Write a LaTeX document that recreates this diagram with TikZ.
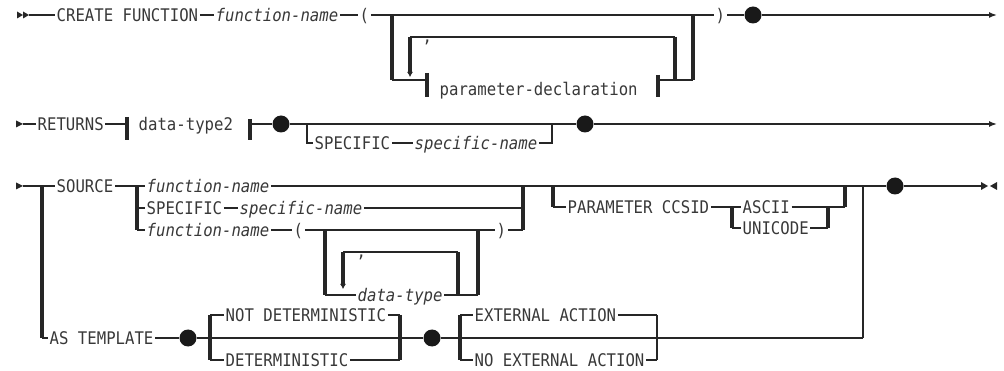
\documentclass[tikz,border=0pt]{standalone}
\usepackage{fontspec}
\newfontfamily\mono[FakeStretch=0.9]{DejaVu Sans Mono}
\usetikzlibrary{arrows.meta}
\begin{document}
\begin{tikzpicture}[x=1pt,y=-1pt,
  rail/.style={line width=1.5pt,draw=black!85},
  bar/.style={line width=3.2pt,draw=black!85},
  kw/.style={font=\mono\fontsize{17.4}{19}\selectfont,text=black!78,inner xsep=1.5pt,inner ysep=0pt,text height=12.6pt,text depth=0pt,anchor=west},
  var/.style={kw,font=\mono\itshape\fontsize{17.4}{19}\selectfont},
  dot/.style={circle,fill=black!90,inner sep=0pt,minimum size=17pt},
  endarrow/.style={rail,-{Latex[length=8pt,width=6pt]}},
  looparrow/.style={bar,-{Latex[length=5pt,width=6pt]}},
  tri/.style={fill=black!85}
]
\useasboundingbox (0,0) rectangle (1004,371);
% ---------- row 1 ----------
\fill[tri] (17,11.5) -- (23,15) -- (17,18.5) -- cycle;
\fill[tri] (23,11.5) -- (29,15) -- (23,18.5) -- cycle;
\coordinate (s1) at (29,15);
\node[kw] (cf) at (55,15) {CREATE FUNCTION};
\node[var] (fn1) at (214,15) {function-name};
\node[kw] (lp1) at (358,15) {(};
\node[kw] (rp1) at (714,15) {)};
\node[dot] (d1) at (753,15) {};
\coordinate (e1) at (997,15);
\draw[rail] (s1) -- (cf.west) (cf.east) -- (fn1.west) (fn1.east) -- (lp1.west) (lp1.east) -- (rp1.west) (rp1.east) -- (d1);
\draw[endarrow] (d1) -- (e1);
\coordinate (a1) at (392,15); \coordinate (a2) at (392,80);
\coordinate (a3) at (693,15); \coordinate (a4) at (693,80);
\coordinate (pl) at (427,80); \coordinate (pr) at (658,80);
\node[kw] (pd) at (438,89) {parameter-declaration};
\draw[bar] (a1) -- (a2);
\draw[bar] (a3) -- (a4);
\draw[rail] (a2) -- (pl) (pr) -- (a4);
\draw[bar] (pl) ++(0,-7) -- ++(0,24);
\draw[bar] (pr) ++(0,-5) -- ++(0,22);
\coordinate (l1) at (410,37); \coordinate (l2) at (410,77);
\coordinate (l3) at (675,37); \coordinate (l4) at (675,80);
\draw[rail] (l1) -- (l3);
\draw[looparrow] (l1) -- (l2);
\draw[bar] (l3) -- (l4);
\node[kw] (c1) at (421,36) {,};
% ---------- row 2 ----------
\fill[tri] (16,120.5) -- (23,124) -- (16,127.5) -- cycle;
\coordinate (s2) at (23,124);
\node[kw] (ret) at (36,124) {RETURNS};
\coordinate (q1) at (127,124); \coordinate (q2) at (250,124);
\node[kw] (dt2) at (137,124) {data-type2};
\node[dot] (d2) at (281,124) {};
\coordinate (o1) at (307,124); \coordinate (o2) at (307,143);
\node[kw] (sp2) at (313,143) {SPECIFIC};
\node[var] (sn2) at (413,143) {specific-name};
\coordinate (o3) at (552,143); \coordinate (o4) at (552,124);
\node[dot] (d3) at (585,124) {};
\coordinate (e2) at (997,124);
\draw[rail] (s2) -- (ret.west) (ret.east) -- (q1) (q2) -- (d2) (d2) -- (d3);
\draw[bar] (q1) ++(0,-7) -- ++(0,23);
\draw[bar] (q2) ++(0,-5) -- ++(0,21);
\draw[rail] (o1) -- (o2) -- (sp2.west) (sp2.east) -- (sn2.west) (sn2.east) -- (o3) -- (o4);
\draw[endarrow] (d3) -- (e2);
% ---------- row 3 ----------
\fill[tri] (16,182.5) -- (23,186) -- (16,189.5) -- cycle;
\coordinate (s3) at (23,186);
\coordinate (m1) at (42,186); \coordinate (m2) at (42,338);
\node[kw] (src) at (55,186) {SOURCE};
\coordinate (k1) at (137,186); \coordinate (k2) at (137,230); \coordinate (kb) at (137,208);
\node[var] (fnA) at (145,186) {function-name};
\node[kw] (spB) at (145,208) {SPECIFIC};
\node[var] (snB) at (238,208) {specific-name};
\node[var] (fnC) at (145,230) {function-name};
\node[kw] (lpC) at (292,230) {(};
\coordinate (g1) at (325,230); \coordinate (g2) at (325,295);
\node[var] (dtC) at (356,295) {data-type};
\coordinate (g3) at (478,295); \coordinate (g4) at (478,230);
\coordinate (h1) at (343,252); \coordinate (h2) at (343,289);
\coordinate (h3) at (458,252); \coordinate (h4) at (458,295);
\node[kw] (c2) at (355,251) {,};
\node[kw] (rpC) at (495,230) {)};
\coordinate (k3) at (523,230); \coordinate (k4) at (523,208); \coordinate (k5) at (523,186);
\coordinate (p1) at (553,186); \coordinate (p2) at (553,207);
\node[kw] (pc) at (566,207) {PARAMETER CCSID};
\coordinate (u1) at (732,207); \coordinate (u2) at (732,228);
\node[kw] (asc) at (741,207) {ASCII};
\node[kw] (uni) at (741,228) {UNICODE};
\coordinate (u3) at (828,207); \coordinate (u4) at (828,228);
\coordinate (p3) at (845,207); \coordinate (p4) at (845,186);
\coordinate (m3) at (863,186); \coordinate (m4) at (863,338);
\node[dot] (d4) at (895,186) {};
\coordinate (e3) at (981,186);
\draw[rail] (s3) -- (m1) -- (src.west) (src.east) -- (k1) -- (fnA.west) (fnA.east) -- (d4) -- (e3);
\fill[tri] (981,182) -- (988,186) -- (981,190) -- cycle;
\fill[tri] (997,182) -- (990,186) -- (997,190) -- cycle;
\draw[bar] (m1) -- (m2);
\draw[bar] (k1) -- (k2);
\draw[rail] (kb) -- (spB.west) (spB.east) -- (snB.west) (snB.east) -- (k4);
\draw[rail] (k2) -- (fnC.west) (fnC.east) -- (lpC.west) (lpC.east) -- (rpC.west) (rpC.east) -- (k3);
\draw[bar] (k3) -- (k5);
\draw[bar] (g1) -- (g2);
\draw[rail] (g2) -- (dtC.west) (dtC.east) -- (g3);
\draw[bar] (g3) -- (g4);
\draw[rail] (h1) -- (h3);
\draw[looparrow] (h1) -- (h2);
\draw[bar] (h3) -- (h4);
\draw[bar] (p1) -- (p2);
\draw[rail] (p2) -- (pc.west) (pc.east) -- (u1);
\draw[bar] (u1) -- (u2);
\draw[rail] (u1) -- (asc.west) (asc.east) -- (u3) -- (p3);
\draw[rail] (u2) -- (uni.west) (uni.east) -- (u4);
\draw[bar] (u3) -- (u4);
\draw[bar] (p3) -- (p4);
\draw[rail] (m3) -- (m4);
% ---------- AS TEMPLATE ----------
\node[kw] (ast) at (48,338) {AS TEMPLATE};
\node[dot] (d5) at (188,338) {};
\coordinate (n1) at (210,315); \coordinate (n2) at (210,360);
\node[kw] (nd) at (224,315) {NOT DETERMINISTIC};
\node[kw] (det) at (224,360) {DETERMINISTIC};
\coordinate (n3) at (400,315); \coordinate (n4) at (400,360);
\node[dot] (d6) at (432,338) {};
\coordinate (x1) at (460,315); \coordinate (x2) at (460,360);
\node[kw] (ea) at (473,315) {EXTERNAL ACTION};
\node[kw] (nea) at (473,360) {NO EXTERNAL ACTION};
\coordinate (x3) at (657,315); \coordinate (x4) at (657,360);
\draw[rail] (m2) -- (ast.west) (ast.east) -- (d5) -- (d6) -- (m4);
\draw[bar] (n1) -- (n2);
\draw[bar] (n3) -- (n4);
\draw[bar] (x1) -- (x2);
\draw[rail,line width=2pt] (x3) -- (x4);
\draw[rail] (n1) -- (nd.west) (nd.east) -- (n3) (n2) -- (det.west) (det.east) -- (n4);
\draw[rail] (x1) -- (ea.west) (ea.east) -- (x3) (x2) -- (nea.west) (nea.east) -- (x4);
\end{tikzpicture}
\end{document}
